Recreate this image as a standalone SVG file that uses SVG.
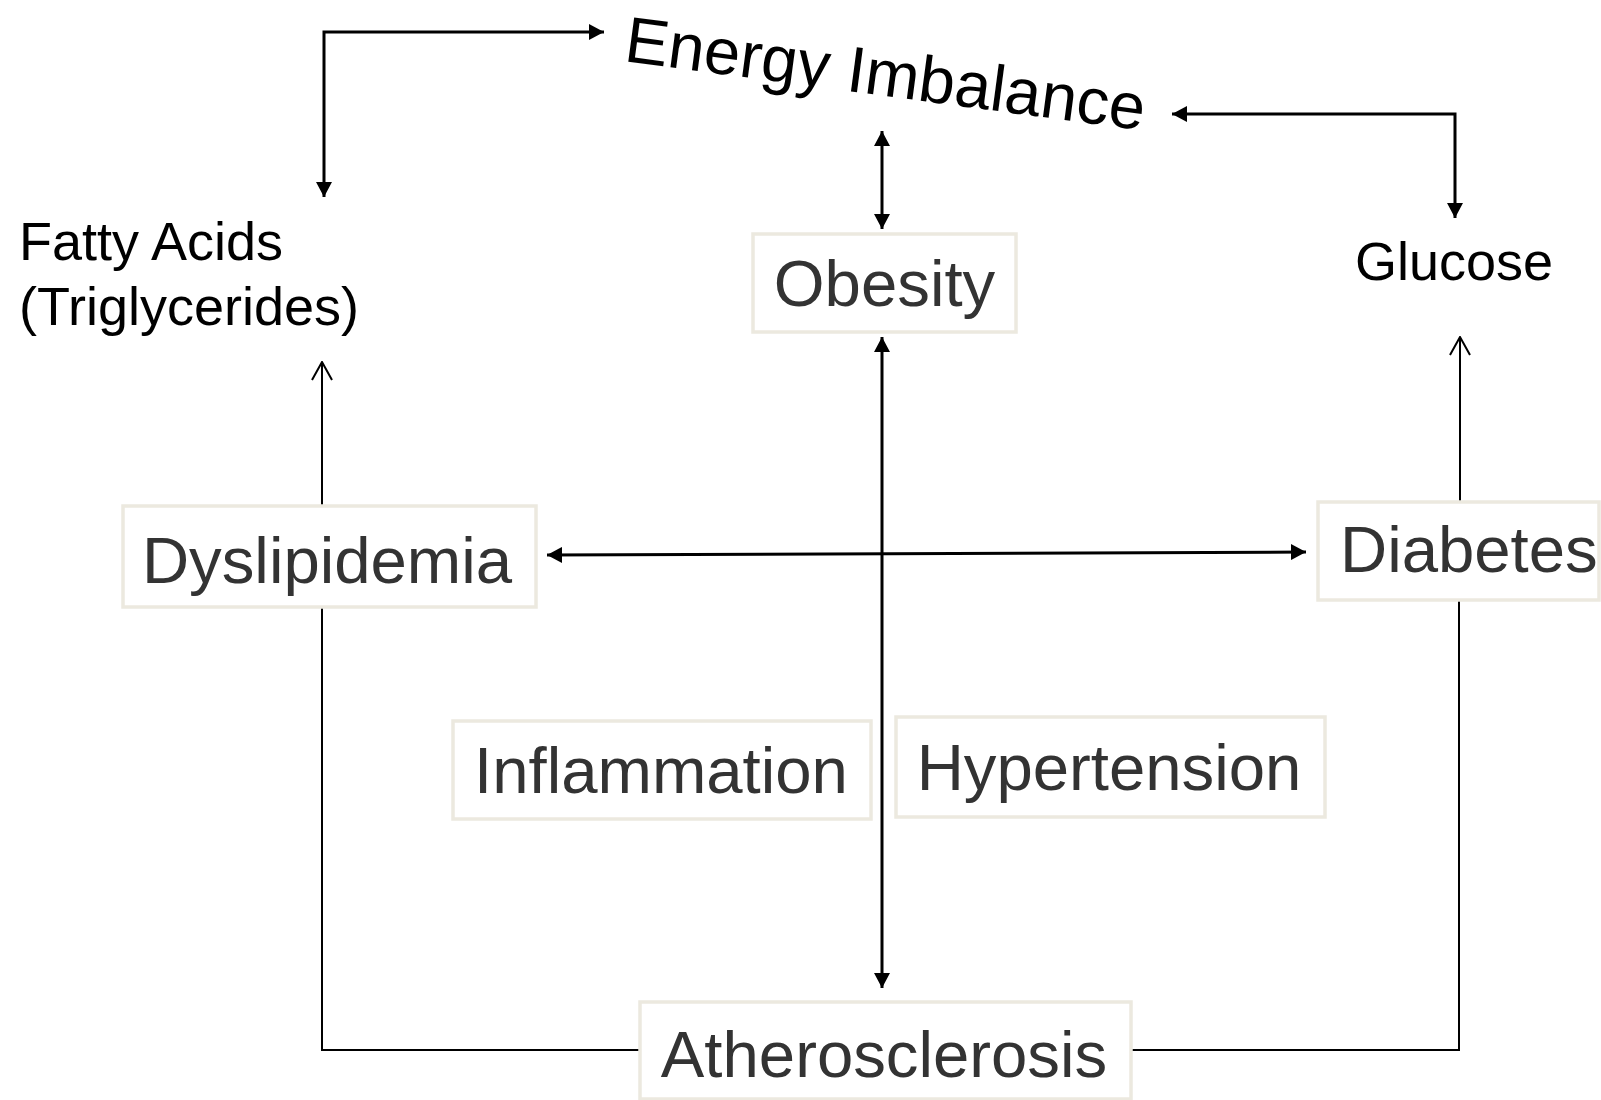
<svg xmlns="http://www.w3.org/2000/svg" width="1601" height="1100" viewBox="0 0 1601 1100">
<style>
.box{fill:#ffffff;stroke:#ECE9DF;stroke-width:3.5}
.lbl{font-family:"Liberation Sans",Arial,sans-serif;font-size:65.3px;fill:#333333}
.plain{font-family:"Liberation Sans",Arial,sans-serif;font-size:54px;fill:#000000}
.ln{fill:none;stroke:#000000;stroke-width:3}
.thin{fill:none;stroke:#000000;stroke-width:2}
</style>
<defs>
<marker id="fa" viewBox="0 0 15 16" refX="15" refY="8" markerWidth="15" markerHeight="16" markerUnits="userSpaceOnUse" orient="auto-start-reverse">
<path d="M0,0 L15,8 L0,16 Z" fill="#000"/>
</marker>
<marker id="oa" viewBox="0 0 20 22" refX="19" refY="11" markerWidth="20" markerHeight="22" markerUnits="userSpaceOnUse" orient="auto">
<path d="M1,1 L19,11 L1,21" fill="none" stroke="#000" stroke-width="2"/>
</marker>
</defs>
<rect width="1601" height="1100" fill="#ffffff"/>
<g id="connectors">
<path class="ln" d="M604,32 L324,32 L324,197" marker-start="url(#fa)" marker-end="url(#fa)"/>
<path class="ln" d="M1172,114 L1455,114 L1455,218" marker-start="url(#fa)" marker-end="url(#fa)"/>
<path class="ln" d="M882,131 L882,229" marker-start="url(#fa)" marker-end="url(#fa)"/>
<path class="ln" d="M882,337 L882,988" marker-start="url(#fa)" marker-end="url(#fa)"/>
<path class="ln" d="M547,555 L1306,552" marker-start="url(#fa)" marker-end="url(#fa)"/>
<path class="thin" d="M322,506 L322,362" marker-end="url(#oa)"/>
<path class="thin" d="M1460,502 L1460,337" marker-end="url(#oa)"/>
<path class="thin" d="M322,607 L322,1050 L640,1050"/>
<path class="thin" d="M1131,1050 L1459,1050 L1459,600"/>
</g>
<g id="energy-imbalance">
<text x="623" y="61" transform="rotate(7.6 623 61)" style="font-family:'Liberation Sans',Arial,sans-serif;font-size:65px;fill:#000">Energy Imbalance</text>
</g>
<g id="fatty-acids">
<text class="plain" x="19" y="260">Fatty Acids</text>
<text class="plain" x="19" y="325">(Triglycerides)</text>
</g>
<g id="glucose">
<text class="plain" x="1355" y="280">Glucose</text>
</g>
<g id="obesity">
<rect class="box" x="753" y="234" width="263" height="98"/>
<text class="lbl" x="884.5" y="306" text-anchor="middle">Obesity</text>
</g>
<g id="dyslipidemia">
<rect class="box" x="123" y="506" width="413" height="101"/>
<text class="lbl" x="327" y="583" text-anchor="middle">Dyslipidemia</text>
</g>
<g id="diabetes">
<rect class="box" x="1318" y="502" width="281" height="98"/>
<text class="lbl" x="1340" y="572">Diabetes</text>
</g>
<g id="inflammation">
<rect class="box" x="453" y="721" width="418" height="98"/>
<text class="lbl" x="661" y="793" text-anchor="middle">Inflammation</text>
</g>
<g id="hypertension">
<rect class="box" x="896" y="717" width="429" height="100"/>
<text class="lbl" x="1109" y="790" text-anchor="middle">Hypertension</text>
</g>
<g id="atherosclerosis">
<rect class="box" x="640" y="1002" width="491" height="97"/>
<text class="lbl" x="884" y="1077" text-anchor="middle">Atherosclerosis</text>
</g>
</svg>
